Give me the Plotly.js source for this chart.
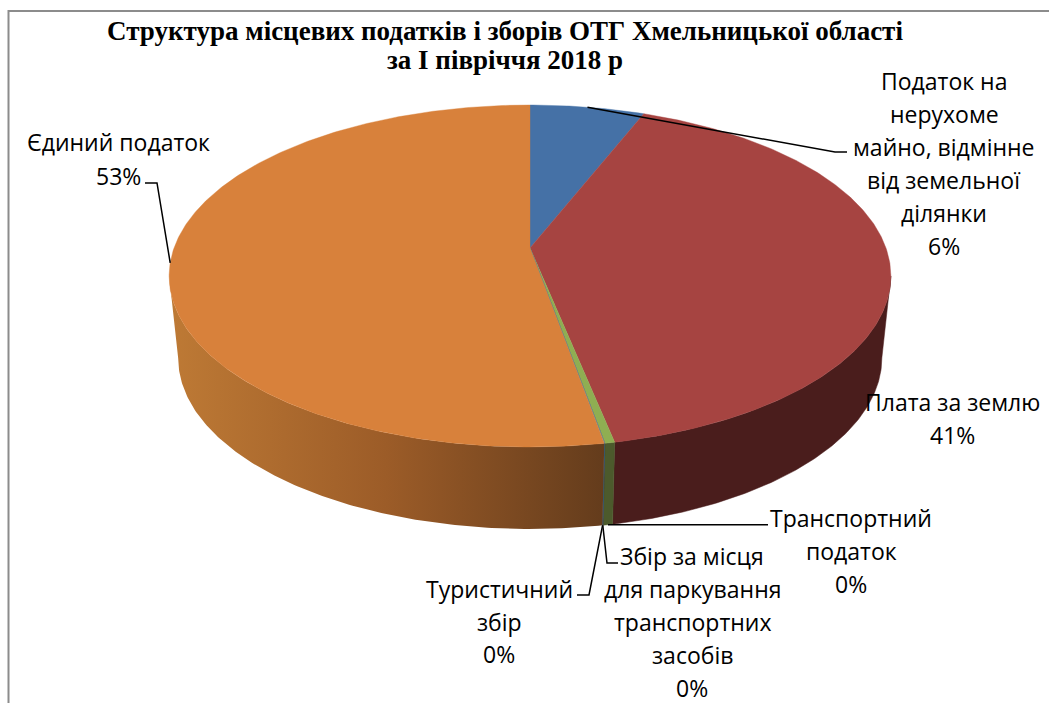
<!DOCTYPE html>
<html><head><meta charset="utf-8">
<script src="https://cdn.plot.ly/plotly-3.0.1.min.js"></script>
<style>html,body{margin:0;padding:0;background:#fff;overflow:hidden}</style></head>
<body><div id="chart" style="width:1049px;height:703px"></div>
<script>
// ---------- data ----------
var categories = [
  ["Податок на","нерухоме","майно, відмінне","від земельної","ділянки"],
  ["Плата за землю"],
  ["Транспортний","податок"],
  ["Збір за місця","для паркування","транспортних","засобів"],
  ["Туристичний","збір"],
  ["Єдиний податок"]
];
var values = [6.0, 40.8, 0.38, 0.01, 0.01, 52.8];
var topColors  = ["#4571A6","#A64441","#8FAE52","#6F5A92","#3E8DA6","#D8813B"];
var sideColors = ["#2C4668","#4A1D1C","#4C5A2C","#453859","#2A6075","#8A5226"];
var titleLine1 = "Структура місцевих податків і зборів ОТГ Хмельницької області";
var titleLine2 = "за I півріччя 2018 р";

// ---------- pie projection ----------
var cx = 530, cy = 248, A = 356, B = 166.4, k = 0.1637, depth = 82, shrink = 0.975;
var tilt = Math.acos(-k);
function rimTop(t){ var w = 1 + k*Math.cos(t);
  return [cx + A*Math.sin(t)/w, cy - B*Math.cos(t)/w]; }
function rimLow(t){ var p = rimTop(t); return [cx + (p[0]-cx)*shrink, p[1] + depth]; }
function arc(a, b, f){ var n = Math.max(2, Math.ceil(Math.abs(b-a)/0.01)), o = [];
  for (var i = 0; i <= n; i++) o.push(f(a + (b-a)*i/n)); return o; }

var total = values.reduce(function(s,v){return s+v;},0), run = 0;
var angles = values.map(function(v){ var s = run/total*2*Math.PI; run += v;
  return [s, run/total*2*Math.PI]; });

var sides = [], tops = [];
values.forEach(function(v,i){
  var a = angles[i][0], b = angles[i][1];
  var s = Math.max(a, tilt), e = Math.min(b, 2*Math.PI - tilt);
  if (e > s) {
    var pts = arc(s,e,rimTop).concat(arc(e,s,rimLow)); pts.push(pts[0]);
    var tr = {type:"scatter", mode:"lines", fill:"toself", hoverinfo:"skip", showlegend:false,
      x:pts.map(function(p){return p[0];}), y:pts.map(function(p){return p[1];}),
      line:{width:0.5, color:sideColors[i]}, fillcolor:sideColors[i]};
    if (i === 5) {
      tr.fillgradient = {type:"horizontal", start:168, stop:604,
        colorscale:[[0,"#BE7A35"],[0.5,"#9C5C28"],[1,"#643C1C"]]};
      tr.line = {width:0};
    }
    sides.push(tr);
  }
  var p = [[cx,cy]].concat(arc(a,b,rimTop)); p.push([cx,cy]);
  tops.push({type:"scatter", mode:"lines", fill:"toself", hoverinfo:"skip", showlegend:false,
    x:p.map(function(q){return q[0];}), y:p.map(function(q){return q[1];}),
    line:{width:0.4, color:topColors[i]}, fillcolor:topColors[i]});
});

function mid(i){ return (angles[i][0]+angles[i][1])/2; }
// label placement: [centre x, first-line y, line pitch]
var labelPos = [[944,81,33],[952,402,33],[851,518,33],[692,556,33],[499,589,32.5],[118,142,34]];
// leader elbows per slice (from the slice's rim outward)
var leaders = [
  [rimTop(mid(0)), [835,152], [847,152]],
  null,
  [[608,rimLow(mid(2))[1]], [768,rimLow(mid(2))[1]]],
  [rimLow(mid(3)), [607,563], [618,563]],
  [rimLow(mid(4)), [589,595], [577,595]],
  [rimTop(mid(5)), [157,183], [145,183]]
];
var lines = leaders.filter(Boolean).map(function(l){
  return {type:"scatter", mode:"lines", hoverinfo:"skip", showlegend:false,
    x:l.map(function(p){return p[0];}), y:l.map(function(p){return p[1];}),
    line:{color:"#000", width:1.5}};
});

var annotations = [];
categories.forEach(function(c,i){
  var rows = c.concat([Math.round(values[i]/total*100)+"%"]);
  rows.forEach(function(t,j){
    annotations.push({x:labelPos[i][0], y:labelPos[i][1]+j*labelPos[i][2], xref:"x", yref:"y",
      text:t, showarrow:false, xanchor:"center", yanchor:"middle",
      font:{family:"Open Sans, Noto Sans, sans-serif", size:23, color:"#000"}});
  });
});
annotations.push({x:505, y:60, xref:"x", yref:"y", text:"<b>"+titleLine2+"</b>", showarrow:false,
  xanchor:"center", yanchor:"middle",
  font:{family:"Liberation Serif, serif", size:27, color:"#000"}});

var layout = {
  width:1049, height:703, margin:{l:0,r:0,t:0,b:0}, paper_bgcolor:"#fff", plot_bgcolor:"#fff",
  showlegend:false,
  title:{text:"<b>"+titleLine1+"</b>", x:505/1049, xanchor:"center", y:0.957, yanchor:"middle",
    font:{family:"Liberation Serif, serif", size:27, color:"#000"}},
  xaxis:{range:[0,1049], visible:false, fixedrange:true},
  yaxis:{range:[703,0], visible:false, fixedrange:true},
  shapes:[{type:"path", path:"M8.5,703 L8.5,11 L1049,11", xref:"x", yref:"y",
    line:{color:"#8C8C8C", width:2}}],
  annotations:annotations
};
Plotly.newPlot("chart", sides.concat(tops).concat(lines), layout, {displayModeBar:false, staticPlot:true});
</script></body></html>
